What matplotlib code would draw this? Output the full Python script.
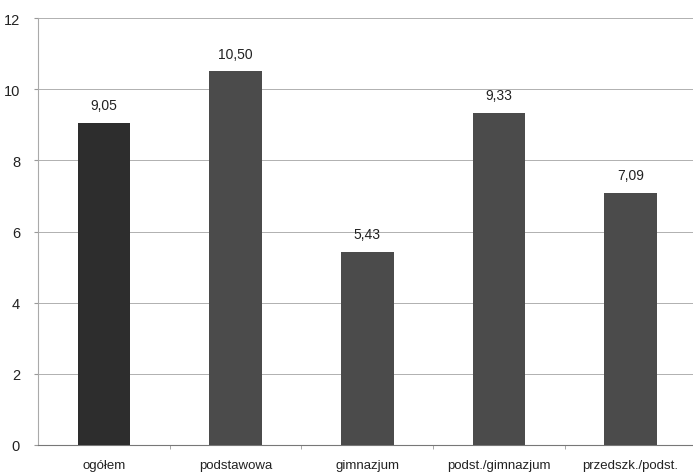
import matplotlib
matplotlib.use('Agg')
import matplotlib.pyplot as plt

categories = ['ogółem', 'podstawowa', 'gimnazjum', 'podst./gimnazjum', 'przedszk./podst.']
values = [9.05, 10.50, 5.43, 9.33, 7.09]
bar_colors = ['#2d2d2d', '#4b4b4b', '#4b4b4b', '#4b4b4b', '#4b4b4b']
y_ticks = [0, 2, 4, 6, 8, 10, 12]

plt.rcParams['font.family'] = ['Liberation Sans', 'DejaVu Sans']

fig = plt.figure(figsize=(6.93, 4.77), dpi=100)
ax = fig.add_axes([0.055, 0.065, 0.95, 0.895])

x = range(len(categories))
bars = ax.bar(x, values, width=0.4, color=bar_colors, zorder=3)

for b, v in zip(bars, values):
    ax.text(b.get_x() + b.get_width() / 2, v + 0.3, f'{v:.2f}'.replace('.', ','),
            ha='center', va='bottom', fontsize=10, color='#222222')

ax.set_xlim(-0.5, len(categories) - 0.5)
ax.set_ylim(0, 12)
ax.set_yticks(y_ticks)
ax.set_yticklabels([str(t) for t in y_ticks], fontsize=10.5, color='#222222')
ax.yaxis.grid(True, color='#b0b0b0', linewidth=0.7, zorder=0)

ax.set_xticks(list(x))
ax.set_xticklabels(categories, fontsize=9.5, color='#222222')
ax.tick_params(axis='x', length=0, pad=10)
ax.set_xticks([i + 0.5 for i in range(len(categories) - 1)], minor=True)
ax.tick_params(axis='x', which='minor', length=3, color='#999999')
ax.tick_params(axis='y', length=3, color='#999999', pad=10)

ax.spines['top'].set_visible(False)
ax.spines['right'].set_visible(False)
ax.spines['left'].set_color('#aaaaaa')
ax.spines['bottom'].set_color('#777777')

fig.savefig('out.png', dpi=100)
